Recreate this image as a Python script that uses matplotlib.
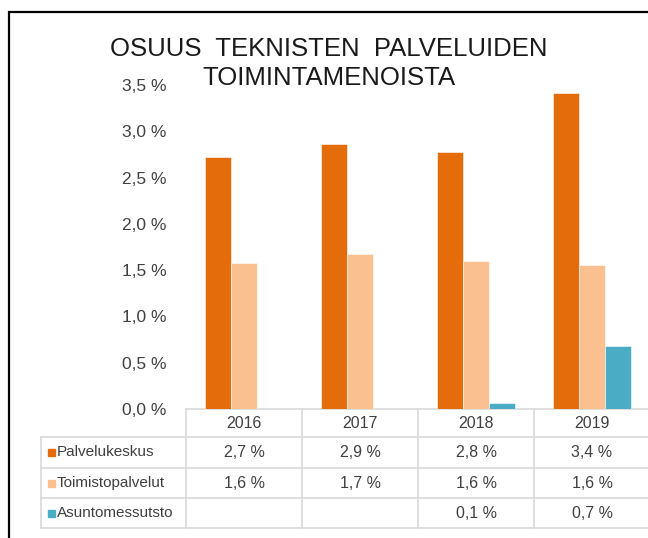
import numpy as np
import matplotlib
matplotlib.use("Agg")
import matplotlib.pyplot as plt
from matplotlib.patches import Rectangle
from matplotlib.lines import Line2D
import matplotlib.transforms as mtransforms

# data (share of operating costs, %)
years = ["2016", "2017", "2018", "2019"]
series_names = ["Palvelukeskus", "Toimistopalvelut", "Asuntomessutsto"]
palvelukeskus = [2.72, 2.86, 2.78, 3.41]
toimistopalvelut = [1.58, 1.67, 1.60, 1.56]
asuntomessut = [np.nan, np.nan, 0.07, 0.68]
colors = ["#E46C0A", "#FAC090", "#4BACC6"]

W, H = 648, 538
FONT = ["Liberation Sans", "DejaVu Sans"]
TXT = "#404040"
GRID = "#d9d9d9"


def fx(px):
    return px / W


def fy(py):
    return 1 - py / H


def fmt(v):
    if np.isnan(v):
        return ""
    return f"{v:.1f}".replace(".", ",") + " %"


fig = plt.figure(figsize=(W / 100, H / 100), dpi=100)

# outer black frame (runs past the right/bottom edge like the screenshot)
fig.add_artist(Rectangle((fx(8.5), fy(600)), fx(700), (600 - 11.5) / H,
                         transform=fig.transFigure, fill=False, edgecolor="black",
                         linewidth=1.6))

ax = fig.add_axes([fx(186), fy(409), fx(650) - fx(186), fy(85) - fy(409)])
x = np.arange(len(years))
bw = 0.224
all_series = [palvelukeskus, toimistopalvelut, asuntomessut]
for k, (vals, col) in enumerate(zip(all_series, colors)):
    ax.bar(x + (k - 1) * bw, vals, width=bw, color=col, edgecolor="white",
           linewidth=0.4, zorder=2)

ticks = np.arange(0, 3.51, 0.5)
ax.set_xlim(-0.5, len(years) - 0.5)
ax.set_ylim(0, 3.5)
ax.set_yticks(ticks)
ax.set_yticklabels([f"{t:.1f}".replace(".", ",") + " %" for t in ticks],
                   family=FONT, fontsize=12.5, color=TXT)
ax.tick_params(axis="y", length=0, pad=14)
ax.set_xticks([])
for s in ax.spines.values():
    s.set_visible(False)

fig.text(fx(329), fy(56), "OSUUS  TEKNISTEN  PALVELUIDEN", ha="center", va="baseline",
         family=FONT, fontsize=18.5, color="#1a1a1a")
fig.text(fx(329), fy(85), "TOIMINTAMENOISTA", ha="center", va="baseline",
         family=FONT, fontsize=18.5, color="#1a1a1a")

# data table under the chart
tr = mtransforms.blended_transform_factory(ax.transData, fig.transFigure)
row_lines = [409, 437, 468, 498, 528]
edges = np.arange(len(years) + 1) - 0.5


def hline(x0, x1, ypx):
    ax.add_line(Line2D([x0, x1], [fy(ypx), fy(ypx)], transform=tr, color=GRID,
                       linewidth=1.2, clip_on=False, zorder=1))


# header row with the years
hline(edges[0], edges[-1], row_lines[0])
for e in edges:
    ax.add_line(Line2D([e, e], [fy(row_lines[0]), fy(row_lines[-1])], transform=tr,
                       color=GRID, linewidth=1.2, clip_on=False))
for i, yr in enumerate(years):
    ax.text(i, fy((row_lines[0] + row_lines[1]) / 2), yr, transform=tr, ha="center",
            va="center", family=FONT, fontsize=11.5, color=TXT)

# body rows also span the label column
label_left = fx(41)
fig.add_artist(Line2D([label_left, label_left], [fy(row_lines[1]), fy(row_lines[-1])],
                      transform=fig.transFigure, color=GRID, linewidth=1.2))
for r in row_lines[1:]:
    fig.add_artist(Line2D([label_left, ax.get_position().x0], [fy(r), fy(r)],
                          transform=fig.transFigure, color=GRID, linewidth=1.2))
    hline(edges[0], edges[-1], r)

for k, (name, vals, col) in enumerate(zip(series_names, all_series, colors)):
    yc = (row_lines[k + 1] + row_lines[k + 2]) / 2
    fig.add_artist(Rectangle((fx(48), fy(yc + 3.5)), fx(7), 7 / H,
                             transform=fig.transFigure, color=col))
    fig.text(fx(57), fy(yc), name, ha="left", va="center", family=FONT,
             fontsize=11, color=TXT)
    for i, v in enumerate(vals):
        ax.text(i, fy(yc), fmt(v), transform=tr, ha="center", va="center",
                family=FONT, fontsize=11.5, color=TXT)

fig.savefig("out.png", dpi=100)
